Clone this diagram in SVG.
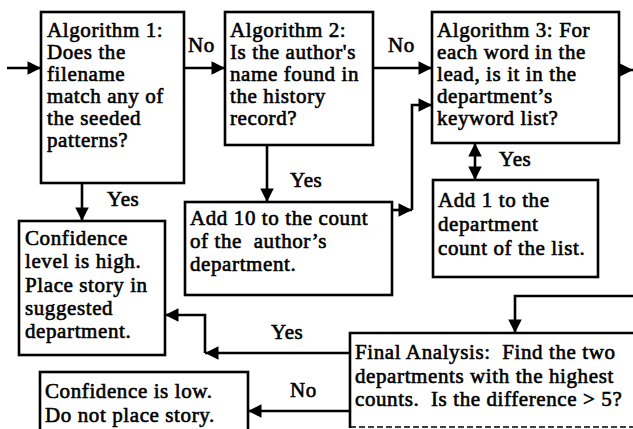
<svg xmlns="http://www.w3.org/2000/svg" width="633" height="429" viewBox="0 0 633 429" xml:space="preserve">
  <style>
    .box { fill: #fff; stroke: #000; stroke-width: 2.6; }
    .ln { fill: none; stroke: #000; stroke-width: 2.6; }
    text { font-family: "Liberation Serif", "Times New Roman", serif; font-size: 21px; fill: #000; stroke: #000; stroke-width: 0.6px; letter-spacing: 0.6px; white-space: pre; }
  </style>
  <defs>
    <marker id="arr" viewBox="0 0 10 10" refX="10" refY="5" markerWidth="5.2" markerHeight="5.2" markerUnits="strokeWidth" orient="auto-start-reverse">
      <path d="M0,0 L10,5 L0,10 Z" fill="#000"/>
    </marker>
  </defs>

  <rect width="633" height="429" fill="#fff"/>

  <g id="connectors">
    <path class="ln" d="M7,68 H41" marker-end="url(#arr)"/>
    <path class="ln" d="M184,68 H225" marker-end="url(#arr)"/>
    <path class="ln" d="M373,68 H432" marker-end="url(#arr)"/>
    <path class="ln" d="M619,70 H633" marker-end="url(#arr)"/>
    <path class="ln" d="M82,183 V221" marker-end="url(#arr)"/>
    <path class="ln" d="M267,145 V202" marker-end="url(#arr)"/>
    <path class="ln" d="M392,210 H412" marker-end="url(#arr)"/>
    <path class="ln" d="M412,210 V105 H432" marker-end="url(#arr)"/>
    <path class="ln" d="M475,143 V180" marker-start="url(#arr)" marker-end="url(#arr)"/>
    <path class="ln" d="M633,296 H515 V333" marker-end="url(#arr)"/>
    <path class="ln" d="M350,353 H205" marker-end="url(#arr)"/>
    <path class="ln" d="M205,353 V315 H165" marker-end="url(#arr)"/>
    <path class="ln" d="M350,411 H248" marker-end="url(#arr)"/>
    <text x="188" y="52">No</text>
    <text x="388" y="52">No</text>
    <text x="107" y="206">Yes</text>
    <text x="290" y="187">Yes</text>
    <text x="499" y="166">Yes</text>
    <text x="271" y="339">Yes</text>
    <text x="290" y="397">No</text>
  </g>

  <g id="alg1">
    <rect class="box" x="41" y="12" width="143" height="171"/>
    <text x="47" y="37">Algorithm 1:</text>
    <text x="47" y="59">Does the</text>
    <text x="47" y="81">filename</text>
    <text x="47" y="103">match any of</text>
    <text x="47" y="125">the seeded</text>
    <text x="47" y="147">patterns?</text>
  </g>

  <g id="alg2">
    <rect class="box" x="225" y="12" width="148" height="133"/>
    <text x="230" y="37">Algorithm 2:</text>
    <text x="230" y="59">Is the author's</text>
    <text x="230" y="81">name found in</text>
    <text x="230" y="103">the history</text>
    <text x="230" y="125">record?</text>
  </g>

  <g id="alg3">
    <rect class="box" x="432" y="12" width="187" height="131"/>
    <text x="437" y="37">Algorithm 3: For</text>
    <text x="437" y="59">each word in the</text>
    <text x="437" y="81">lead, is it in the</text>
    <text x="437" y="103">department’s</text>
    <text x="437" y="125">keyword list?</text>
  </g>

  <g id="add10">
    <rect class="box" x="185" y="202" width="207" height="93"/>
    <text x="190" y="225">Add 10 to the count</text>
    <text x="190" y="248">of the  author’s</text>
    <text x="190" y="271">department.</text>
  </g>

  <g id="add1">
    <rect class="box" x="433" y="180" width="165" height="97"/>
    <text x="438" y="207">Add 1 to the</text>
    <text x="438" y="231">department</text>
    <text x="438" y="255">count of the list.</text>
  </g>

  <g id="high">
    <rect class="box" x="19" y="221" width="146" height="134"/>
    <text x="25" y="245">Confidence</text>
    <text x="25" y="268">level is high.</text>
    <text x="25" y="292">Place story in</text>
    <text x="25" y="315">suggested</text>
    <text x="25" y="338">department.</text>
  </g>

  <g id="final">
    <rect x="350" y="333" width="290" height="95" fill="#fff"/>
    <path class="ln" d="M640,333 H350 V428"/>
    <path d="M350,427 H633" fill="none" stroke="#000" stroke-width="1.5" stroke-dasharray="6 3"/>
    <text x="355" y="359">Final Analysis:  Find the two</text>
    <text x="355" y="383">departments with the highest</text>
    <text x="355" y="406">counts.  Is the difference &gt; 5?</text>
  </g>

  <g id="low">
    <rect class="box" x="40" y="372" width="208" height="70"/>
    <text x="45" y="398">Confidence is low.</text>
    <text x="45" y="422">Do not place story.</text>
  </g>
</svg>
